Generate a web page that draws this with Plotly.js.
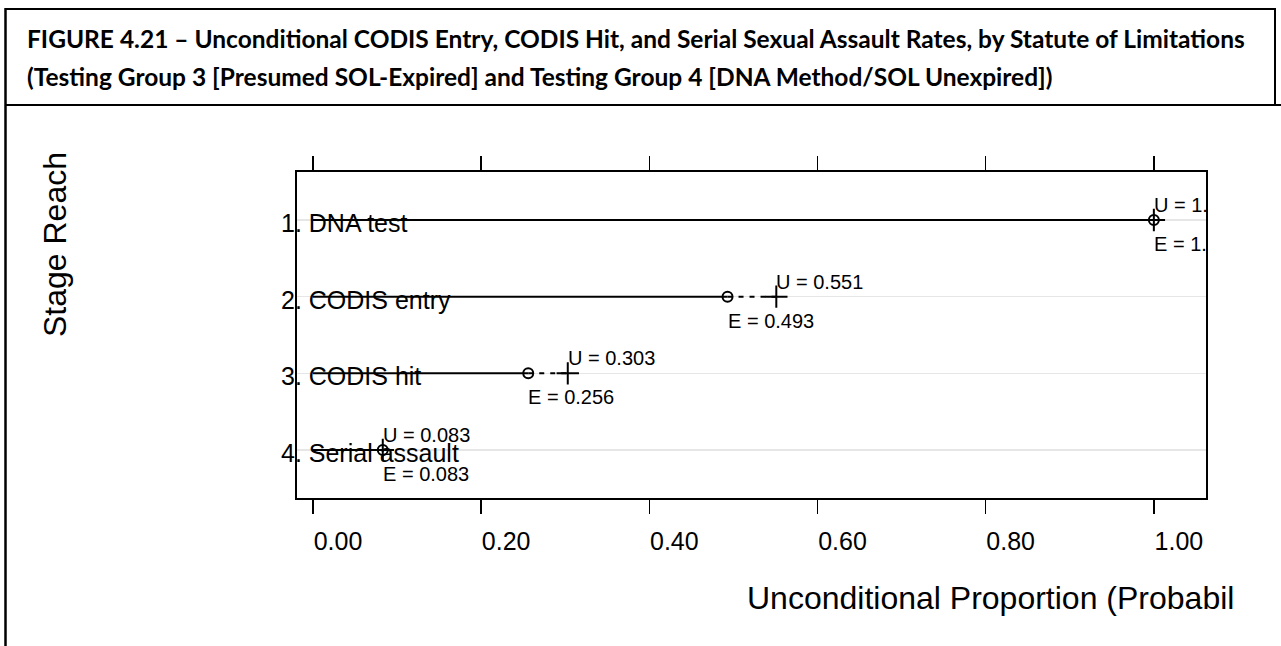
<!DOCTYPE html>
<html><head><meta charset="utf-8">
<script src="https://cdn.plot.ly/plotly-3.0.1.min.js"></script>
<style>html,body{margin:0;padding:0;background:#fff;} #chart{width:1281px;height:646px;}</style>
</head><body><div id="chart"></div>
<script>
// ---- data ----
const stages = ["1. DNA test", "2. CODIS entry", "3. CODIS hit", "4. Serial assault"];
const eRates = [1.000, 0.493, 0.256, 0.083];
const uRates = [1.000, 0.551, 0.303, 0.083];
const eLabels = ["E = 1.", "E = 0.493", "E = 0.256", "E = 0.083"];
const uLabels = ["U = 1.", "U = 0.551", "U = 0.303", "U = 0.083"];
const xTickVals = [0, 0.2, 0.4, 0.6, 0.8, 1.0];
const xTickText = ["0.00", "0.20", "0.40", "0.60", "0.80", "1.00"];
const titleLines = [
  "FIGURE 4.21 \u2013 Unconditional CODIS Entry, CODIS Hit, and Serial Sexual Assault Rates, by Statute of Limitations",
  "(Testing Group 3 [Presumed SOL-Expired] and Testing Group 4 [DNA Method/SOL Unexpired])"
];
const xTitle = "Unconditional Proportion (Probabil";
const yTitle = "Stage Reach";

// ---- geometry helpers (pixel -> paper) ----
const W = 1281, H = 646;
const M = {l: 297, r: 75, t: 172, b: 148};
const PW = W - M.l - M.r, PH = H - M.t - M.b;
const px = v => (v - M.l) / PW;
const py = v => (H - M.b - v) / PH;

const FONT = "Liberation Sans, Arial, sans-serif";
const TFONT = "Lato, Open Sans, sans-serif";

// ---- traces ----
const solidX = [], solidY = [], dashX = [], dashY = [];
stages.forEach((s, i) => {
  solidX.push(0, eRates[i], null); solidY.push(s, s, null);
  dashX.push(eRates[i], uRates[i], null); dashY.push(s, s, null);
});

const traces = [
  {x: solidX, y: solidY, mode: "lines", line: {color: "#000", width: 2}, hoverinfo: "skip", showlegend: false},
  {x: dashX, y: dashY, mode: "lines", line: {color: "#000", width: 2, dash: "5px,6px"}, hoverinfo: "skip", showlegend: false},
  {x: eRates, y: stages, mode: "markers", name: "E",
   marker: {symbol: "circle-open", size: 10, color: "#000", line: {color: "#000", width: 2}}, showlegend: false},
  {x: uRates, y: stages, mode: "markers", name: "U",
   marker: {symbol: "cross-thin-open", size: 16, color: "#000", line: {color: "#000", width: 2}}, showlegend: false}
];

// ---- annotations ----
const annotations = [];
stages.forEach((s, i) => {
  // category label (left-aligned, straddling the left frame)
  annotations.push({xref: "paper", yref: "y", x: px(279), y: s, text: s, showarrow: false,
    xanchor: "left", yanchor: "middle", yshift: -3, font: {family: FONT, size: 25, color: "#000"}});
  annotations.push({x: uRates[i], y: s, xref: "x", yref: "y", text: uLabels[i], showarrow: false,
    xanchor: "left", yanchor: "middle", xshift: -2, yshift: 15, font: {family: FONT, size: 20, color: "#000"}});
  annotations.push({x: eRates[i], y: s, xref: "x", yref: "y", text: eLabels[i], showarrow: false,
    xanchor: "left", yanchor: "middle", xshift: -2, yshift: -24, font: {family: FONT, size: 20, color: "#000"}});
});
annotations.push({xref: "paper", yref: "paper", x: px(25), y: py(39), xanchor: "left", yanchor: "middle",
  text: "<b>" + titleLines[0] + "</b>", showarrow: false, font: {family: TFONT, size: 24.5, color: "#000"}});
annotations.push({xref: "paper", yref: "paper", x: px(25), y: py(76.5), xanchor: "left", yanchor: "middle",
  text: "<b>" + titleLines[1] + "</b>", showarrow: false, font: {family: TFONT, size: 24.5, color: "#000"}});
annotations.push({xref: "paper", yref: "paper", x: px(745), y: py(598), xanchor: "left", yanchor: "middle",
  text: xTitle, showarrow: false, font: {family: FONT, size: 32, color: "#000"}});
annotations.push({xref: "paper", yref: "paper", x: px(55), y: py(245), xanchor: "center", yanchor: "middle",
  text: yTitle, textangle: -90, showarrow: false, font: {family: FONT, size: 32, color: "#000"}});

// ---- frame shapes ----
const ln = {color: "#000", width: 2};
const shapes = [
  {type: "line", xref: "paper", yref: "paper", x0: px(5), x1: px(1275), y0: py(9), y1: py(9), line: ln},
  {type: "line", xref: "paper", yref: "paper", x0: px(5.5), x1: px(5.5), y0: py(8), y1: py(650), line: {color: "#000", width: 2.5}},
  {type: "line", xref: "paper", yref: "paper", x0: px(1275), x1: px(1275), y0: py(8), y1: py(105), line: ln},
  {type: "line", xref: "paper", yref: "paper", x0: px(5), x1: px(1285), y0: py(105), y1: py(105), line: ln}
];

const layout = {
  width: W, height: H,
  margin: M,
  paper_bgcolor: "#fff", plot_bgcolor: "#fff",
  showlegend: false,
  font: {family: FONT, color: "#000"},
  xaxis: {
    range: [-0.019, 1.062], tickvals: xTickVals, ticktext: xTickText,
    ticks: "outside", ticklen: 14, tickwidth: 1.5, tickcolor: "#000",
    showline: true, mirror: "ticks", linewidth: 2, linecolor: "#000",
    showgrid: false, zeroline: false, automargin: false,
    tickfont: {family: FONT, size: 25, color: "#000"},
    ticklabelshift: 25, ticklabelstandoff: 6
  },
  yaxis: {
    type: "category", categoryorder: "array", categoryarray: stages,
    range: [3.626, -0.626],
    showline: true, mirror: true, linewidth: 2, linecolor: "#000",
    ticks: "", showticklabels: false,
    showgrid: true, gridcolor: "#e6e6e6", gridwidth: 1.5, zeroline: false,
    automargin: false
  },
  annotations: annotations,
  shapes: shapes
};

Plotly.newPlot("chart", traces, layout, {displayModeBar: false, staticPlot: true});
</script>
</body></html>
